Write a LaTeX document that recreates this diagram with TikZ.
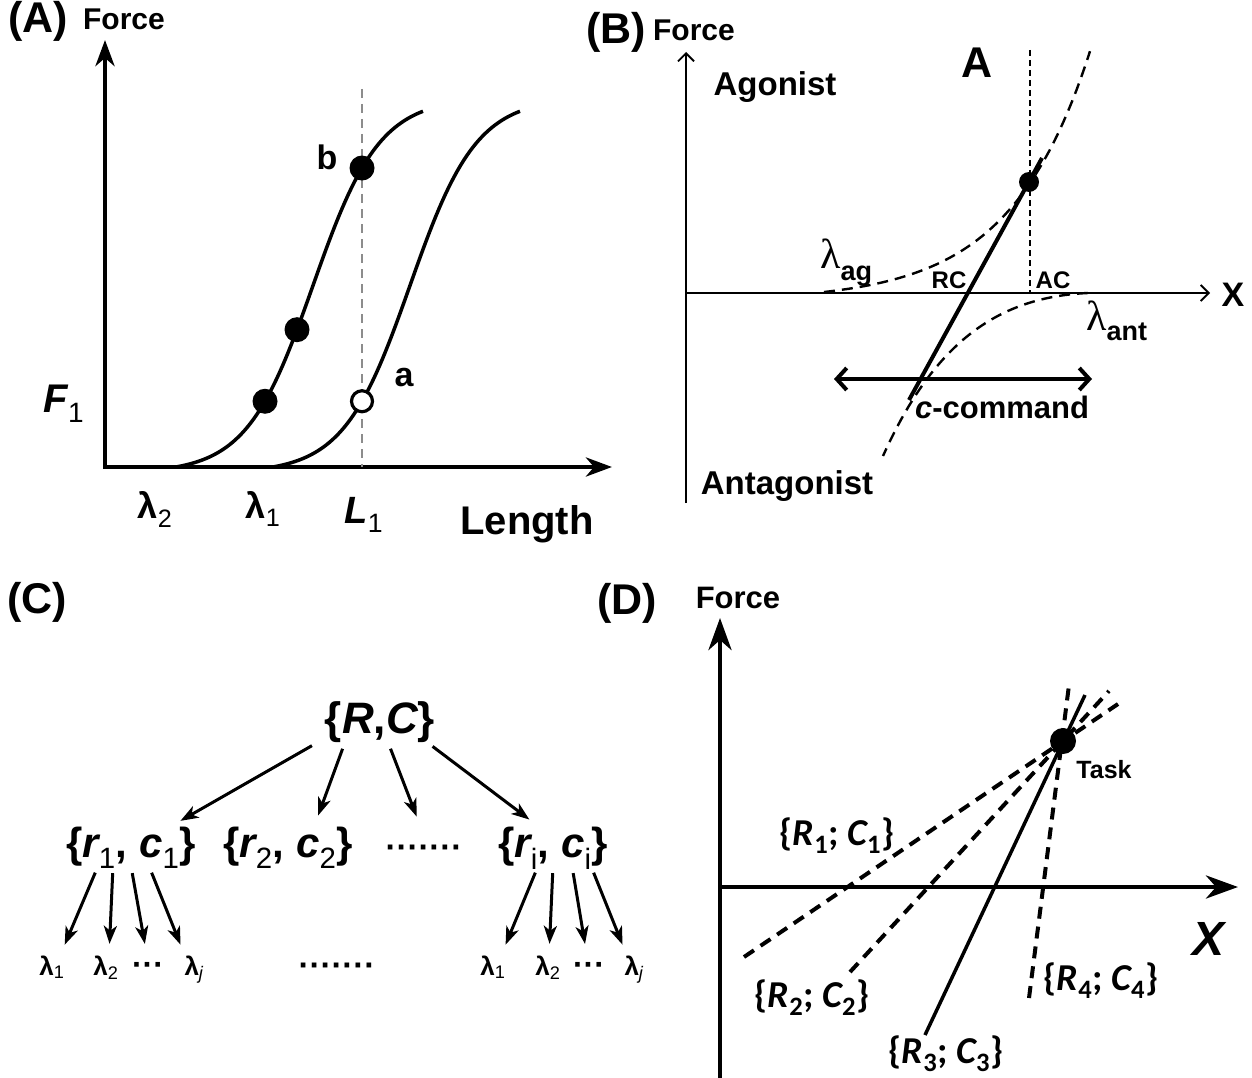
\documentclass[tikz,border=0pt]{standalone}
\usepackage{fontspec}
\setmainfont{Liberation Sans}
\newfontfamily\calfont{Carlito}
\newfontfamily\serfont{Liberation Serif}
\usepackage{tikz}
\usetikzlibrary{positioning, arrows.meta}

\newcommand{\fsz}[1]{\fontsize{#1pt}{#1pt}\selectfont}
\newcommand{\lsub}[1]{\textsubscript{\mdseries #1}}

\begin{document}
\begin{tikzpicture}[x=1pt, y=-1pt,
    panel/.style={font=\bfseries\fsz{43}, inner sep=0pt, anchor=base},
    lbl/.style={font=\bfseries\fsz{#1}, inner sep=0pt, anchor=base},
    rowtxt/.style={text height=30pt, text depth=9pt},
    leaf/.style={lbl=26, text height=19pt, text depth=6pt},
    dlbl/.style={font=\calfont\bfseries\fsz{38}, inner sep=0pt, anchor=base},
    axA/.style={line width=4.5pt, arrows={Stealth[length=26pt,width=19pt,inset=8pt]-Stealth[length=26pt,width=19pt,inset=8pt]}},
    axB/.style={line width=1.8pt, arrows={-Straight Barb[length=8pt,width=16pt]}},
    axD/.style={line width=4.8pt, arrows={-Stealth[length=32pt,width=23pt,inset=10pt]}},
    sigm/.style={line width=3.5pt},
    guide/.style={black!45, line width=2.5pt, dash pattern=on 9pt off 6pt},
    dotf/.style={circle, fill=black, minimum size=#1, inner sep=0pt},
    doto/.style={circle, draw=black, fill=white, line width=3.2pt, minimum size=21pt, inner sep=0pt},
    dashB/.style={line width=2.4pt, dash pattern=on 11pt off 7pt},
    tree/.style={line width=3pt, arrows={-Stealth[length=18pt,width=13pt,inset=5pt]}, shorten <=7pt, shorten >=12pt},
    dashD/.style={line width=4pt, dash pattern=on 12pt off 8pt},
    declare function={sigA(\x)=375/(1+exp(-(\x-313)/33.3))-6;
                      agon(\x)=118*exp((\x-1030)/80)-8;}
  ]
  \fill[white] (0,0) rectangle (1252,1078);
  \useasboundingbox (0,0) rectangle (1252,1078);

  % ── (A) force vs length ──
  \node[panel] (labA) at (38,33) {(A)};
  \node[lbl=30] (forceA) at (124,30) {Force};
  \draw[axA] (105,40) |- (612,467);
  \draw[guide] (362,89) -- (362,467);
  \draw[sigm] plot[domain=176:423, samples=80] (\x,{467-sigA(\x)});
  \draw[sigm] plot[domain=273:520, samples=80] (\x,{467-sigA(\x-97)});
  \foreach \nm/\xx in {ptLo/265, ptMid/297, ptB/362}
    \node[dotf=25pt] (\nm) at (\xx,{467-sigA(\xx)}) {};
  \node[doto] (ptA) at (362,{467-sigA(265)}) {};
  \node[lbl=34] (txtB) at (327,170) {b};
  \node[lbl=34] (txtA) at (404,386) {a};
  \node[lbl=40] (fOne) at (64,412) {{\itshape F}\lsub{1}};
  \node[lbl=36] (lamTwo) at (155,518) {λ\lsub{2}};
  \node[lbl=36] (lamOne) at (263,518) {λ\lsub{1}};
  \node[lbl=38] (lenL) at (364,523) {{\itshape L}\lsub{1}};
  \node[lbl=40] (lenTxt) at (527,534) {Length};

  % ── (B) agonist / antagonist ──
  \node[panel] (labB) at (616,44) {(B)};
  \node[lbl=30] (forceB) at (694,41) {Force};
  \draw[axB] (686,503) -- (686,52);
  \draw[axB] (686,293) -- (1210,293);
  \draw[line width=1.5pt, dash pattern=on 6pt off 4pt] (1030,50) -- (1030,293);
  \draw[dashB] plot[domain=824:1090, samples=60] (\x,{293-agon(\x)});
  \draw[dashB] (1088,293) .. controls (1000,297) and (935,340) .. (883,456);
  \coordinate (cmdLo) at (909,400);
  \coordinate (cmdHi) at (1042,158);
  \draw[line width=4pt] (cmdLo) -- (cmdHi);
  \node[dotf=20pt] (eqPt) at (1029,182) {};
  \coordinate (cmdL) at (834,379);
  \coordinate (cmdR) at (1092,379);
  \draw[line width=4pt, arrows={Straight Barb[length=10pt,width=22pt]-Straight Barb[length=10pt,width=22pt]}] (cmdL) -- (cmdR);
  \node[lbl=33] (txtAgon) at (775,96) {Agonist};
  \node[lbl=43] (bigA) at (977,78) {A};
  \node[lbl=33] (txtAntag) at (787,494) {Antagonist};
  \node[lbl=34] (xB) at (1233,306) {X};
  \node[lbl=24] (rcTxt) at (949,288) {RC};
  \node[lbl=24] (acTxt) at (1053,288) {AC};
  \node[lbl=31] (ccmd) at (1002,418) {{\itshape c}-command};
  \node[inner sep=0pt, anchor=base west] (lamAg) at (820,268)
    {{\serfont\fsz{42}λ}\raisebox{-12pt}{\bfseries\fsz{27}ag}};
  \node[inner sep=0pt, anchor=base west] (lamAnt) at (1086,330)
    {{\serfont\fsz{42}λ}\raisebox{-10pt}{\bfseries\fsz{27}ant}};

  % ── (C) hierarchy of commands ──
  \node[panel] (labC) at (37,613) {(C)};
  \node[lbl=44, text height=32pt, text depth=9pt] (rc) at (380,733) {\{{\itshape R},{\itshape C}\}};
  \node[lbl=42, rowtxt] (rcOne) at (131,857) {\{{\itshape r}\lsub{1}, {\itshape c}\lsub{1}\}};
  \node[lbl=42, rowtxt] (rcTwo) at (288,857) {\{{\itshape r}\lsub{2}, {\itshape c}\lsub{2}\}};
  \node[lbl=33, rowtxt] (rcDots) at (424,858) {·······};
  \node[lbl=42, rowtxt] (rcI) at (553,857) {\{{\itshape r}\lsub{i}, {\itshape c}\lsub{i}\}};
  \foreach \nm/\xx/\tx in {lfA/52/λ\lsub{1}, lfB/106/λ\lsub{2}, lfC/148/{\fsz{32}···}, lfD/194/λ\lsub{\itshape j},
                           lfE/493/λ\lsub{1}, lfF/548/λ\lsub{2}, lfG/589/{\fsz{32}···}, lfH/634/λ\lsub{\itshape j}}
    \node[leaf] (\nm) at (\xx,975) {\tx};
  \node[lbl=33] (lfDots) at (337,976) {·······};
  \foreach \sx/\nm/\hx in {-62/rcOne/39, -35/rcTwo/26, 8/rcDots/-3, 47/rcI/-14}
    \draw[tree] ([xshift=\sx]rc.south) -- ([xshift=\hx]\nm.north);
  \foreach \sx/\nm/\hx in {-33/lfA/8, -18/lfB/3, 0/lfC/-1, 18/lfD/-9}
    \draw[tree] ([xshift=\sx]rcOne.south) -- ([xshift=\hx]\nm.north);
  \foreach \sx/\nm/\hx in {-15/lfE/8, 0/lfF/1, 19/lfG/-2, 38/lfH/-7}
    \draw[tree] ([xshift=\sx]rcI.south) -- ([xshift=\hx]\nm.north);

  % ── (D) task point and command pairs ──
  \node[panel] (labD) at (627,614) {(D)};
  \node[lbl=31] (forceD) at (738,608) {Force};
  \draw[axD] (720,1078) -- (720,618);
  \draw[axD] (720,887) -- (1238,887);
  \coordinate (rOneLo) at (744,957);  \coordinate (rOneHi) at (1118,704);
  \coordinate (rTwoLo) at (850,972);  \coordinate (rTwoHi) at (1109,691);
  \coordinate (rThrLo) at (925,1035); \coordinate (rThrHi) at (1085,695);
  \coordinate (rFouLo) at (1029,998); \coordinate (rFouHi) at (1069,685);
  \draw[dashD] (rOneLo) -- (rOneHi);
  \draw[dashD] (rTwoLo) -- (rTwoHi);
  \draw[dashD] (rFouLo) -- (rFouHi);
  \draw[line width=3.5pt] (rThrLo) -- (rThrHi);
  \node[dotf=26pt] (taskPt) at (1063,741) {};
  \node[lbl=25] (taskTxt) at (1104,778) {Task};
  \node[font=\bfseries\itshape\fsz{48}, inner sep=0pt, anchor=base] (xD) at (1208,955) {X};
  \foreach \nm/\i/\xx/\yy in {ldOne/1/837/845, ldTwo/2/812/1007, ldThr/3/946/1063, ldFou/4/1101/990}
    \node[dlbl] (\nm) at (\xx,\yy) {\{{\itshape R}\textsubscript{\i}; {\itshape C}\textsubscript{\i}\}};
\end{tikzpicture}
\end{document}
